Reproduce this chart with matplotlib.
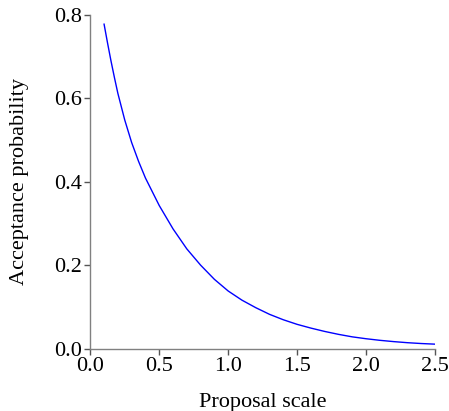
import matplotlib
matplotlib.use('Agg')
import matplotlib.pyplot as plt

# proposal scale vs acceptance probability
scale = [0.1, 0.125, 0.15, 0.175, 0.2, 0.25, 0.3, 0.35, 0.4, 0.5, 0.6, 0.7,
         0.8, 0.9, 1.0, 1.1, 1.2, 1.3, 1.4, 1.5, 1.6, 1.7, 1.8, 1.9, 2.0,
         2.1, 2.2, 2.3, 2.4, 2.5]
accept = [0.778, 0.733, 0.690, 0.650, 0.612, 0.548, 0.494, 0.449, 0.409,
          0.343, 0.287, 0.239, 0.200, 0.166, 0.138, 0.116, 0.098, 0.082,
          0.069, 0.058, 0.049, 0.041, 0.034, 0.028, 0.0235, 0.0197, 0.0166,
          0.014, 0.012, 0.0105]

xticks = [0.0, 0.5, 1.0, 1.5, 2.0, 2.5]
yticks = [0.0, 0.2, 0.4, 0.6, 0.8]

plt.rcParams['font.family'] = ['Liberation Serif', 'DejaVu Serif']

fig = plt.figure(figsize=(4.49, 4.11), dpi=100)
ax = fig.add_axes([0.2011, 0.152, 0.7677, 0.8115])

ax.plot(scale, accept, color='#0000ff', linewidth=1.0)

ax.set_xlim(0, 2.5)
ax.set_ylim(0, 0.8)
ax.set_xticks(xticks)
ax.set_yticks(yticks)
ax.set_xticklabels([f'{t:.1f}' for t in xticks])
ax.set_yticklabels([f'{t:.1f}' for t in yticks])

for side in ['top', 'right']:
    ax.spines[side].set_visible(False)
for side in ['left', 'bottom']:
    ax.spines[side].set_color('#808080')
    ax.spines[side].set_linewidth(1.0)

ax.tick_params(direction='out', length=4.5, width=1, color='#555555',
               labelsize=16, pad=1.5)
ax.set_xlabel('Proposal scale', fontsize=16, labelpad=12)
ax.set_ylabel('Acceptance probability', fontsize=16, labelpad=18)

fig.savefig('out.png', dpi=100)
